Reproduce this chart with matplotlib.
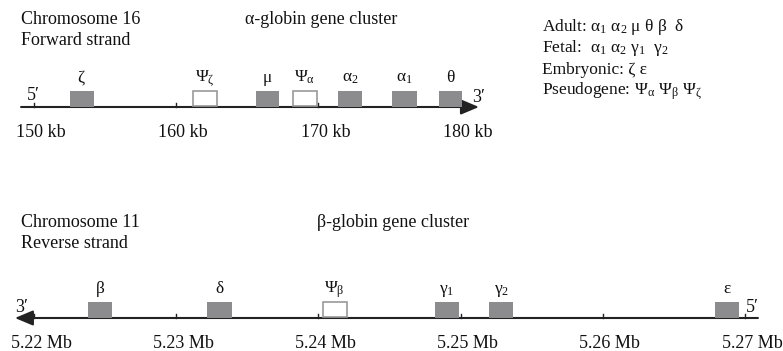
import matplotlib.pyplot as plt
from matplotlib.patches import Rectangle

plt.rcParams['font.family'] = 'Liberation Serif'
plt.rcParams['mathtext.fontset'] = 'custom'
plt.rcParams['mathtext.rm'] = 'Liberation Serif'
plt.rcParams['mathtext.it'] = 'Liberation Serif:italic'
plt.rcParams['mathtext.default'] = 'regular'

# alpha-globin cluster, chromosome 16 (kb)
alpha_genes = [r'$\zeta$', r'$\Psi_\zeta$', r'$\mu$', r'$\Psi_\alpha$', r'$\alpha_2$', r'$\alpha_1$', r'$\theta$']
alpha_start = [152.5, 161.2, 165.6, 168.2, 171.4, 175.2, 178.5]
alpha_end = [154.2, 162.9, 167.2, 169.9, 173.1, 176.9, 180.1]
alpha_pseudo = [False, True, False, True, False, False, False]
alpha_ticks = [150, 160, 170, 180]
alpha_ticklabels = ['150 kb', '160 kb', '170 kb', '180 kb']

# beta-globin cluster, chromosome 11 (Mb)
beta_genes = [r'$\beta$', r'$\delta$', r'$\Psi_\beta$', r'$\gamma_1$', r'$\gamma_2$', r'$\varepsilon$']
beta_start = [5.2238, 5.2322, 5.2403, 5.2482, 5.2520, 5.2679]
beta_end = [5.2255, 5.2339, 5.2420, 5.2499, 5.2537, 5.2696]
beta_pseudo = [False, False, True, False, False, False]
beta_ticks = [5.22, 5.23, 5.24, 5.25, 5.26, 5.27]
beta_ticklabels = ['5.22 Mb', '5.23 Mb', '5.24 Mb', '5.25 Mb', '5.26 Mb', '5.27 Mb']

legend_lines = [r'Adult: $\alpha_1$ $\alpha_2$ μ θ β  δ',
                r'Fetal:  $\alpha_1$ $\alpha_2$ $\gamma_1$  $\gamma_2$',
                'Embryonic: ζ ε',
                r'Pseudogene: $\Psi_\alpha$ $\Psi_\beta$ $\Psi_\zeta$']

W, H = 783, 351
fig = plt.figure(figsize=(W / 100, H / 100), dpi=100)

PX = 14.22  # pixels per kb


def make_axes(unit):
    ax = fig.add_axes([0, 0, 1, 1])
    ax.patch.set_alpha(0)
    ax.set_xlim(-34 / PX * unit, (W - 34) / PX * unit)
    ax.set_ylim(H, 0)
    ax.axis('off')
    return ax


def track(ax, origin, unit, y, starts, ends, pseudo, names, ticks, ticklabels,
          tail, tip, label_y, name_size):
    x = lambda v: v - origin
    ax.annotate('', xy=(x(tip), y), xytext=(x(tail), y),
                arrowprops=dict(arrowstyle='-|>,head_length=1.0,head_width=0.42',
                                mutation_scale=11, color='#222222', lw=1.5,
                                shrinkA=0, shrinkB=0))
    for t, lab in zip(ticks, ticklabels):
        ax.plot([x(t), x(t)], [y, y - 4], color='#222222', lw=1)
        ax.text(x(t) + 7 / PX * unit, y + 30, lab, ha='center', va='baseline',
                fontsize=13, color='#111111')
    for s, e, p, n in zip(starts, ends, pseudo, names):
        if p:
            r = Rectangle((x(s), y - 16), e - s, 15, facecolor='white',
                          edgecolor='#9a9a9a', lw=1.2, zorder=3)
        else:
            r = Rectangle((x(s), y - 16), e - s, 16, facecolor='#8c8c8e',
                          edgecolor='none', zorder=3)
        ax.add_patch(r)
        ax.text(x((s + e) / 2), label_y, n, ha='center', va='baseline',
                fontsize=name_size, color='#111111')


ax_a = make_axes(1.0)
track(ax_a, 150, 1.0, 107, alpha_start, alpha_end, alpha_pseudo, alpha_genes,
      alpha_ticks, alpha_ticklabels, 149.09, 181.29, 82, 12.5)

ax_b = make_axes(0.001)
track(ax_b, 5.22, 0.001, 318, beta_start, beta_end, beta_pseudo, beta_genes,
      beta_ticks, beta_ticklabels, 5.27091, 5.21866, 293, 12.5)

# text in pixel coordinates
def ptext(px, py, s, **kw):
    fig.text(px / W, 1 - py / H, s, va='baseline', color='#111111', **kw)

ptext(21, 24, 'Chromosome 16', fontsize=13)
ptext(21, 45, 'Forward strand', fontsize=13)
ptext(245, 24, 'α-globin gene cluster', fontsize=13)
ptext(27, 100, '5′', fontsize=13)
ptext(472, 102, '3′', fontsize=13)

ptext(21, 227, 'Chromosome 11', fontsize=13)
ptext(21, 248, 'Reverse strand', fontsize=13)
ptext(317, 227, 'β-globin gene cluster', fontsize=13)
ptext(15, 312, '3′', fontsize=13)
ptext(746, 312, '5′', fontsize=13)

for i, line in enumerate(legend_lines):
    ptext(542, 31 + 21.3 * i, line, fontsize=12.5)

fig.savefig('out.png', dpi=100)
